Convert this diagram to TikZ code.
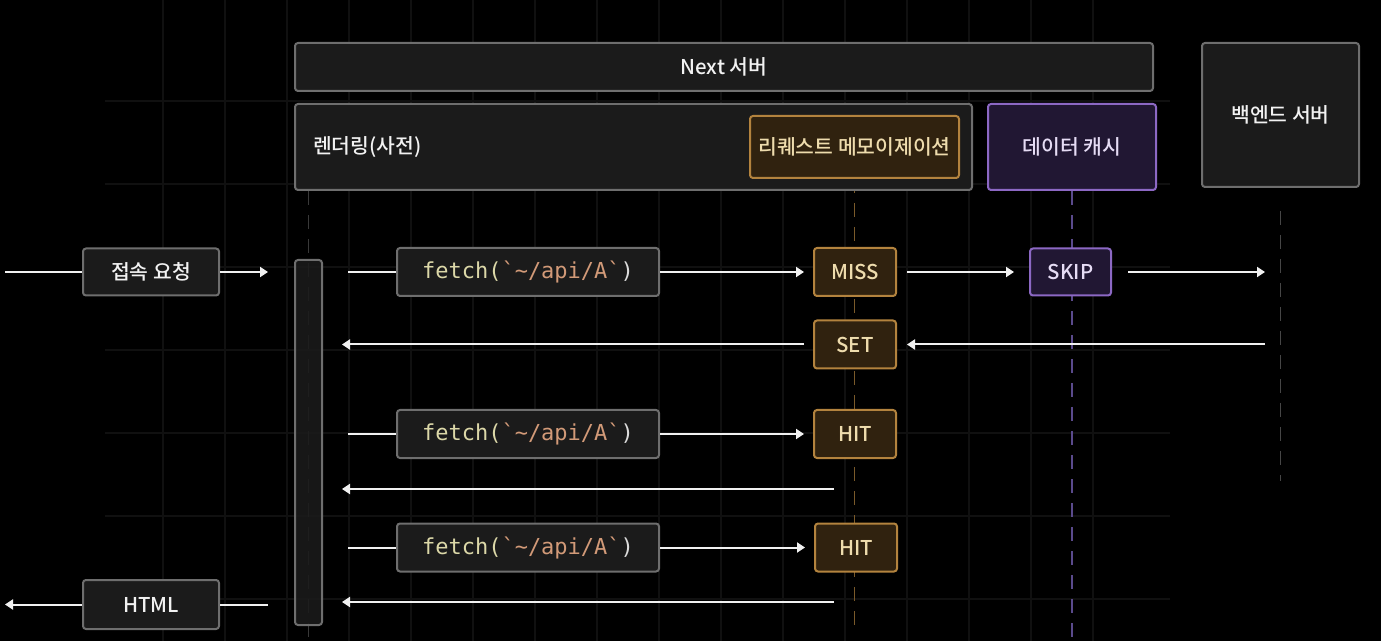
\documentclass[tikz,border=0pt]{standalone}
\usepackage{fontspec}
\setmainfont{Noto Sans CJK KR}[UprightFont=* Medium]
\setmonofont{DejaVu Sans Mono}
\usepackage{tikz}
\usetikzlibrary{positioning,arrows.meta,backgrounds}
\definecolor{boxfill}{HTML}{1B1B1B}
\definecolor{boxgray}{HTML}{6E6E6E}
\definecolor{txt}{HTML}{F2F2F2}
\definecolor{amber}{HTML}{B3833E}
\definecolor{amberfill}{HTML}{30220F}
\definecolor{ambertxt}{HTML}{EEDCAD}
\definecolor{amberlife}{HTML}{7A5A2A}
\definecolor{violet}{HTML}{8C68C4}
\definecolor{violetfill}{HTML}{211733}
\definecolor{violettxt}{HTML}{E6DCF5}
\definecolor{violetlife}{HTML}{5A4A8C}
\definecolor{gridc}{HTML}{101010}
\definecolor{fnc}{HTML}{DCD8A8}
\definecolor{strc}{HTML}{D29A78}
\definecolor{punc}{HTML}{DCDCDC}
\newcommand{\fetchA}{{\color{fnc}fetch(}{\color{strc}`\textasciitilde/api/A`}{\color{punc})}}

\begin{document}
\begin{tikzpicture}[x=0.5pt, y=-0.5pt, >={Triangle[length=4pt,width=5pt]},
  every node/.style={draw=boxgray, fill=boxfill, rounded corners=1.5pt, line width=1pt, text=txt, font=\fontsize{10.2}{12}\selectfont, inner sep=0pt, align=center},
  memo/.style={draw=amber, fill=amberfill, text=ambertxt},
  cache/.style={draw=violet, fill=violetfill, text=violettxt},
  fetchbox/.style={font=\ttfamily\fontsize{11}{13}\selectfont, minimum width=131pt, minimum height=24pt},
  flag/.style={memo, minimum width=41pt, minimum height=24pt},
  msg/.style={draw=white!94!black, line width=1pt},
  life/.style={dash pattern=on 7pt off 5pt, line width=0.8pt},
  gridline/.style={draw=gridc, line width=0.6pt}]
  \useasboundingbox (0,0) rectangle (1381,641);

  \node (next) at (724,67) [minimum width=429pt, minimum height=24pt] {Next 서버};
  \node (render) at (633.5,147) [text width=320.5pt, inner xsep=9pt, minimum height=43pt, align=left] {렌더링(사전)};
  \node (memo) at (854.5,147) [memo, minimum width=104.5pt, minimum height=31pt] {리퀘스트 메모이제이션};
  \node (dcache) at (1072,147) [cache, minimum width=84pt, minimum height=43pt] {데이터 캐시};
  \node (backend) at (1280.5,115) [minimum width=78.5pt, minimum height=72pt] {백엔드 서버};

  \node (bar) at (308.5,442.5) [fill opacity=0.88, minimum width=13.5pt, minimum height=182.5pt] {};
  \node (req) at (151,272) [minimum width=68pt, minimum height=23.5pt] {접속 요청};
  \node (html) at (151,604.5) [minimum width=68pt, minimum height=24.5pt] {HTML};

  \node (f1) at (528,272) [fetchbox] {\fetchA};
  \node (miss) at (855,272) [flag] {MISS};
  \node (skip) at (1070.5,272) [cache, minimum width=40.5pt, minimum height=23.5pt] {SKIP};
  \node (set) at (855,344.5) [flag] {SET};
  \node (f2) at (528,434) [fetchbox] {\fetchA};
  \node (hit1) at (855,434) [flag] {HIT};
  \node (f3) at (528,547.5) [fetchbox] {\fetchA};
  \node (hit2) at (856,547.5) [flag] {HIT};

  \coordinate (userin) at (5,272);
  \coordinate (reqend) at (268,272);
  \coordinate (f1in) at (348,272);
  \coordinate (beout) at (1265,272);
  \coordinate (bein) at (1265,344.5);
  \coordinate (r1) at (342,344.5);
  \coordinate (f2in) at (348,434);
  \coordinate (r2s) at (834,489);
  \coordinate (r2e) at (342,489);
  \coordinate (f3in) at (348,547.5);
  \coordinate (r3s) at (834,602);
  \coordinate (r3e) at (342,602);
  \coordinate (htmlin) at (268,604.5);
  \coordinate (userout) at (5,604.5);

  \begin{scope}[on background layer]
    \fill[black] (0,0) rectangle (1381,641);
    \foreach \gx in {163,225,...,1100} \draw[gridline] (\gx,0) -- (\gx,641);
    \foreach \gy in {101,184,...,620} \draw[gridline] (105,\gy) -- (1170,\gy);
    \draw[life, draw=gray!45!black] (render.south -| bar) -- ++(0,451);
    \draw[life, draw=amberlife] (memo.south) -- ++(0,452);
    \draw[life, draw=violetlife] (dcache.south) -- ++(0,451);
    \draw[life, draw=gray!55!black] (backend.south) ++(0,23) -- ++(0,270);
  \end{scope}

  \draw[msg] (userin) -- (req);
  \draw[msg,->] (req) -- (reqend);
  \draw[msg] (f1in) -- (f1);
  \draw[msg,->,shorten >=4.5pt] (f1) -- (miss);
  \draw[msg,->,shorten <=5pt,shorten >=7.5pt] (miss) -- (skip);
  \draw[msg,->,shorten <=8pt] (skip) -- (beout);

  \draw[msg,->,shorten >=5pt] (bein) -- (set);
  \draw[msg,->,shorten <=4.5pt] (set) -- (r1);

  \draw[msg] (f2in) -- (f2);
  \draw[msg,->,shorten >=4.5pt] (f2) -- (hit1);
  \draw[msg,->] (r2s) -- (r2e);

  \draw[msg] (f3in) -- (f3);
  \draw[msg,->,shorten >=4.5pt] (f3) -- (hit2);
  \draw[msg,->] (r3s) -- (r3e);
  \draw[msg] (htmlin) -- (html);
  \draw[msg,->] (html) -- (userout);
\end{tikzpicture}
\end{document}
